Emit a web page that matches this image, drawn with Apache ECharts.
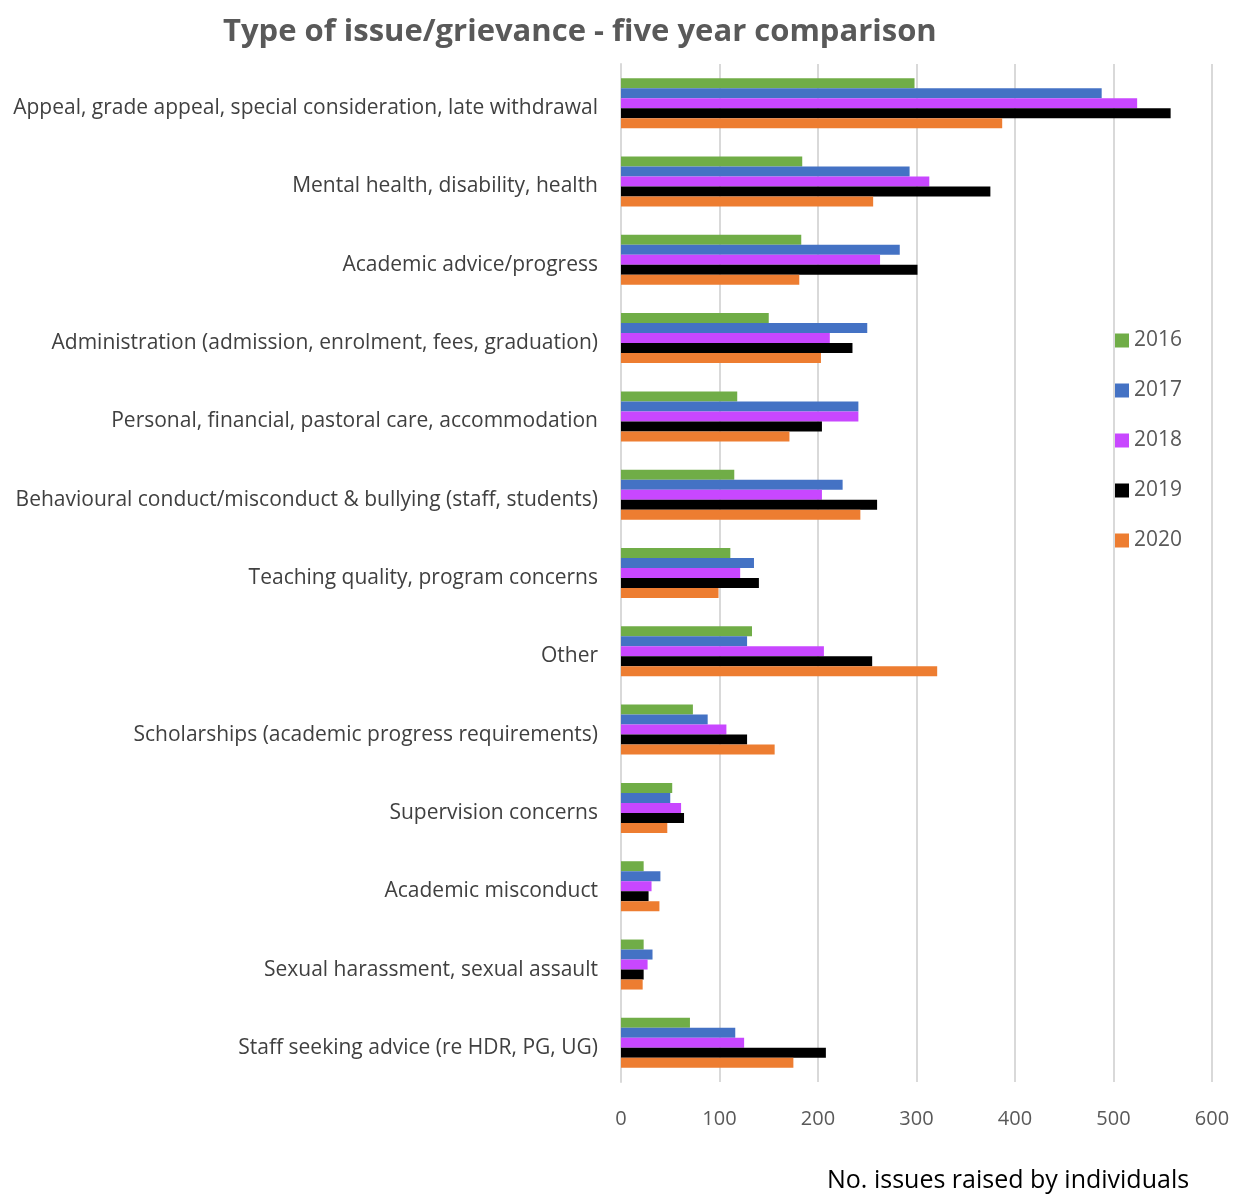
<!DOCTYPE html>
<html>
<head>
<meta charset="utf-8">
<script src="https://cdn.jsdelivr.net/npm/echarts@6/dist/echarts.min.js"></script>
<style>html,body{margin:0;padding:0;background:#fff}#c{width:1243px;height:1194px}</style>
</head>
<body>
<div id="c"></div>
<script>
const categories = [
  "Appeal, grade appeal, special consideration, late withdrawal",
  "Mental health, disability, health",
  "Academic advice/progress",
  "Administration (admission, enrolment, fees, graduation)",
  "Personal, financial, pastoral care, accommodation",
  "Behavioural conduct/misconduct & bullying (staff, students)",
  "Teaching quality, program concerns",
  "Other",
  "Scholarships (academic progress requirements)",
  "Supervision concerns",
  "Academic misconduct",
  "Sexual harassment, sexual assault",
  "Staff seeking advice (re HDR, PG, UG)"
];
const years = ["2016", "2017", "2018", "2019", "2020"];
const v2016 = [298, 184, 183, 150, 118, 115, 111, 133, 73, 52, 23, 23, 70];
const v2017 = [488, 293, 283, 250, 241, 225, 135, 128, 88, 50, 40, 32, 116];
const v2018 = [524, 313, 263, 212, 241, 204, 121, 206, 107, 61, 31, 27, 125];
const v2019 = [558, 375, 301, 235, 204, 260, 140, 255, 128, 64, 28, 23, 208];
const v2020 = [387, 256, 181, 203, 171, 243, 99, 321, 156, 47, 39, 22, 175];
const xTicks = { min: 0, max: 600, interval: 100 };

const colors = ["#70ad47", "#4472c4", "#c847ff", "#000000", "#ed7d31"];
const values = [v2016, v2017, v2018, v2019, v2020];
const font = "Open Sans";

const chart = echarts.init(document.getElementById('c'), null, { renderer: 'canvas' });
chart.setOption({
  animation: false,
  textStyle: { fontFamily: font },
  title: [
    { text: "Type of issue/grievance - five year comparison", left: 218, top: 12,
      textStyle: { fontFamily: font, fontSize: 31, fontWeight: 'bold', color: '#595959' } },
    { text: "No. issues raised by individuals", left: 822, top: 1163,
      textStyle: { fontFamily: font, fontSize: 25, fontWeight: 'normal', color: '#000000' } }
  ],
  legend: {
    orient: 'vertical', left: 1110, top: 325, itemGap: 29, itemWidth: 14, itemHeight: 14,
    icon: 'rect', data: years,
    textStyle: { fontFamily: font, fontSize: 21, color: '#595959' }
  },
  grid: { left: 621, right: 31, top: 64, bottom: 112, containLabel: false },
  xAxis: {
    type: 'value', min: xTicks.min, max: xTicks.max, interval: xTicks.interval,
    axisLine: { show: false }, axisTick: { show: false },
    axisLabel: { margin: 27, fontFamily: font, fontSize: 20, color: '#595959' },
    splitLine: { show: true, lineStyle: { color: '#d9d9d9', width: 2 } }
  },
  yAxis: {
    type: 'category', data: categories, inverse: true,
    axisLine: { show: true, lineStyle: { color: '#d9d9d9', width: 2 } },
    axisTick: { show: false },
    axisLabel: { margin: 23, fontFamily: font, fontSize: 21, color: '#404040',
      verticalAlign: 'top', lineHeight: 10 }
  },
  series: years.map((y, i) => ({
    name: y, type: 'bar', data: values[i],
    itemStyle: { color: colors[i] },
    barWidth: 10, barGap: '0%', barCategoryGap: '36%'
  }))
});
</script>
</body>
</html>
